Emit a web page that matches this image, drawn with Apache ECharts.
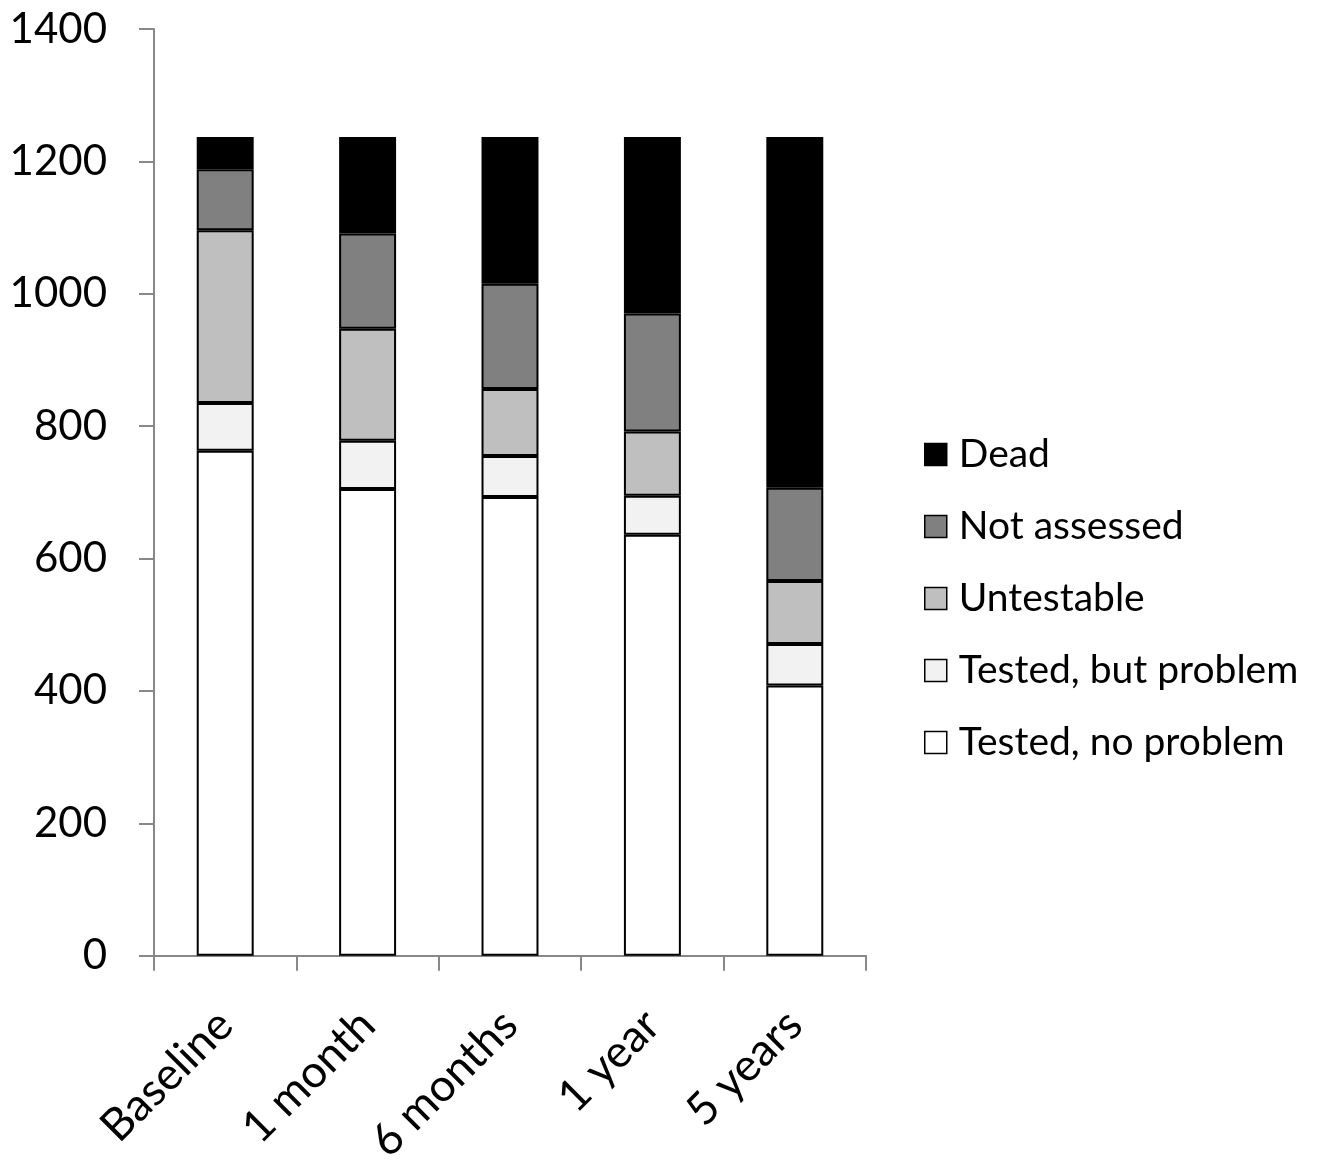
<!DOCTYPE html>
<html>
<head>
<meta charset="utf-8">
<script src="https://cdn.jsdelivr.net/npm/echarts@6/dist/echarts.min.js"></script>
<style>
html,body{margin:0;padding:0;background:#fff;}
#chart{width:1321px;height:1167px;}
</style>
</head>
<body>
<div id="chart"></div>
<script>
var categories = ['Baseline', '1 month', '6 months', '1 year', '5 years'];
var testedNoProblem = [763, 705, 693, 636, 408];
var testedButProblem = [72, 73, 62, 59, 63];
var untestable = [261, 169, 101, 97, 95];
var notAssessed = [92, 144, 159, 178, 141];
var dead = [49, 146, 222, 267, 530];
var yTicks = [0, 200, 400, 600, 800, 1000, 1200, 1400];

var FONT = 'Lato';
var chart = echarts.init(document.getElementById('chart'), null, {renderer: 'canvas'});

function mk(name, data, color) {
  return {
    name: name,
    type: 'bar',
    stack: 'total',
    data: data,
    barWidth: '40%',
    itemStyle: {color: color, borderColor: '#000', borderWidth: 2},
    emphasis: {disabled: true}
  };
}

chart.setOption({
  animation: false,
  backgroundColor: '#fff',
  grid: {left: 154, right: 455, top: 29, bottom: 211, containLabel: false},
  legend: {
    orient: 'vertical',
    left: 924,
    top: 435,
    padding: 0,
    itemWidth: 22,
    itemHeight: 22,
    itemGap: 33,
    icon: 'rect',
    data: ['Dead', 'Not assessed', 'Untestable', 'Tested, but problem', 'Tested, no problem'],
    itemStyle: {borderColor: '#000', borderWidth: 1.5},
    textStyle: {fontFamily: FONT, fontSize: 39, color: '#000', padding: [0, 0, 0, 7]}
  },
  xAxis: {
    type: 'category',
    data: categories,
    axisLine: {lineStyle: {color: '#888', width: 2}},
    axisTick: {show: true, length: 15, alignWithLabel: false, lineStyle: {color: '#888', width: 2}},
    axisLabel: {
      rotate: 45,
      fontFamily: FONT,
      fontSize: 45,
      color: '#000',
      margin: 62,
      interval: 0
    }
  },
  yAxis: {
    type: 'value',
    min: 0,
    max: 1400,
    interval: 200,
    splitLine: {show: false},
    axisLine: {show: true, lineStyle: {color: '#888', width: 2}},
    axisTick: {show: true, length: 15, lineStyle: {color: '#888', width: 2}},
    axisLabel: {
      fontFamily: FONT,
      fontSize: 42,
      color: '#000',
      margin: 47,
      formatter: function (v) { return yTicks.indexOf(v) >= 0 ? String(v) : ''; }
    }
  },
  series: [
    mk('Tested, no problem', testedNoProblem, '#ffffff'),
    mk('Tested, but problem', testedButProblem, '#f2f2f2'),
    mk('Untestable', untestable, '#bfbfbf'),
    mk('Not assessed', notAssessed, '#808080'),
    mk('Dead', dead, '#000000')
  ]
});
</script>
</body>
</html>
